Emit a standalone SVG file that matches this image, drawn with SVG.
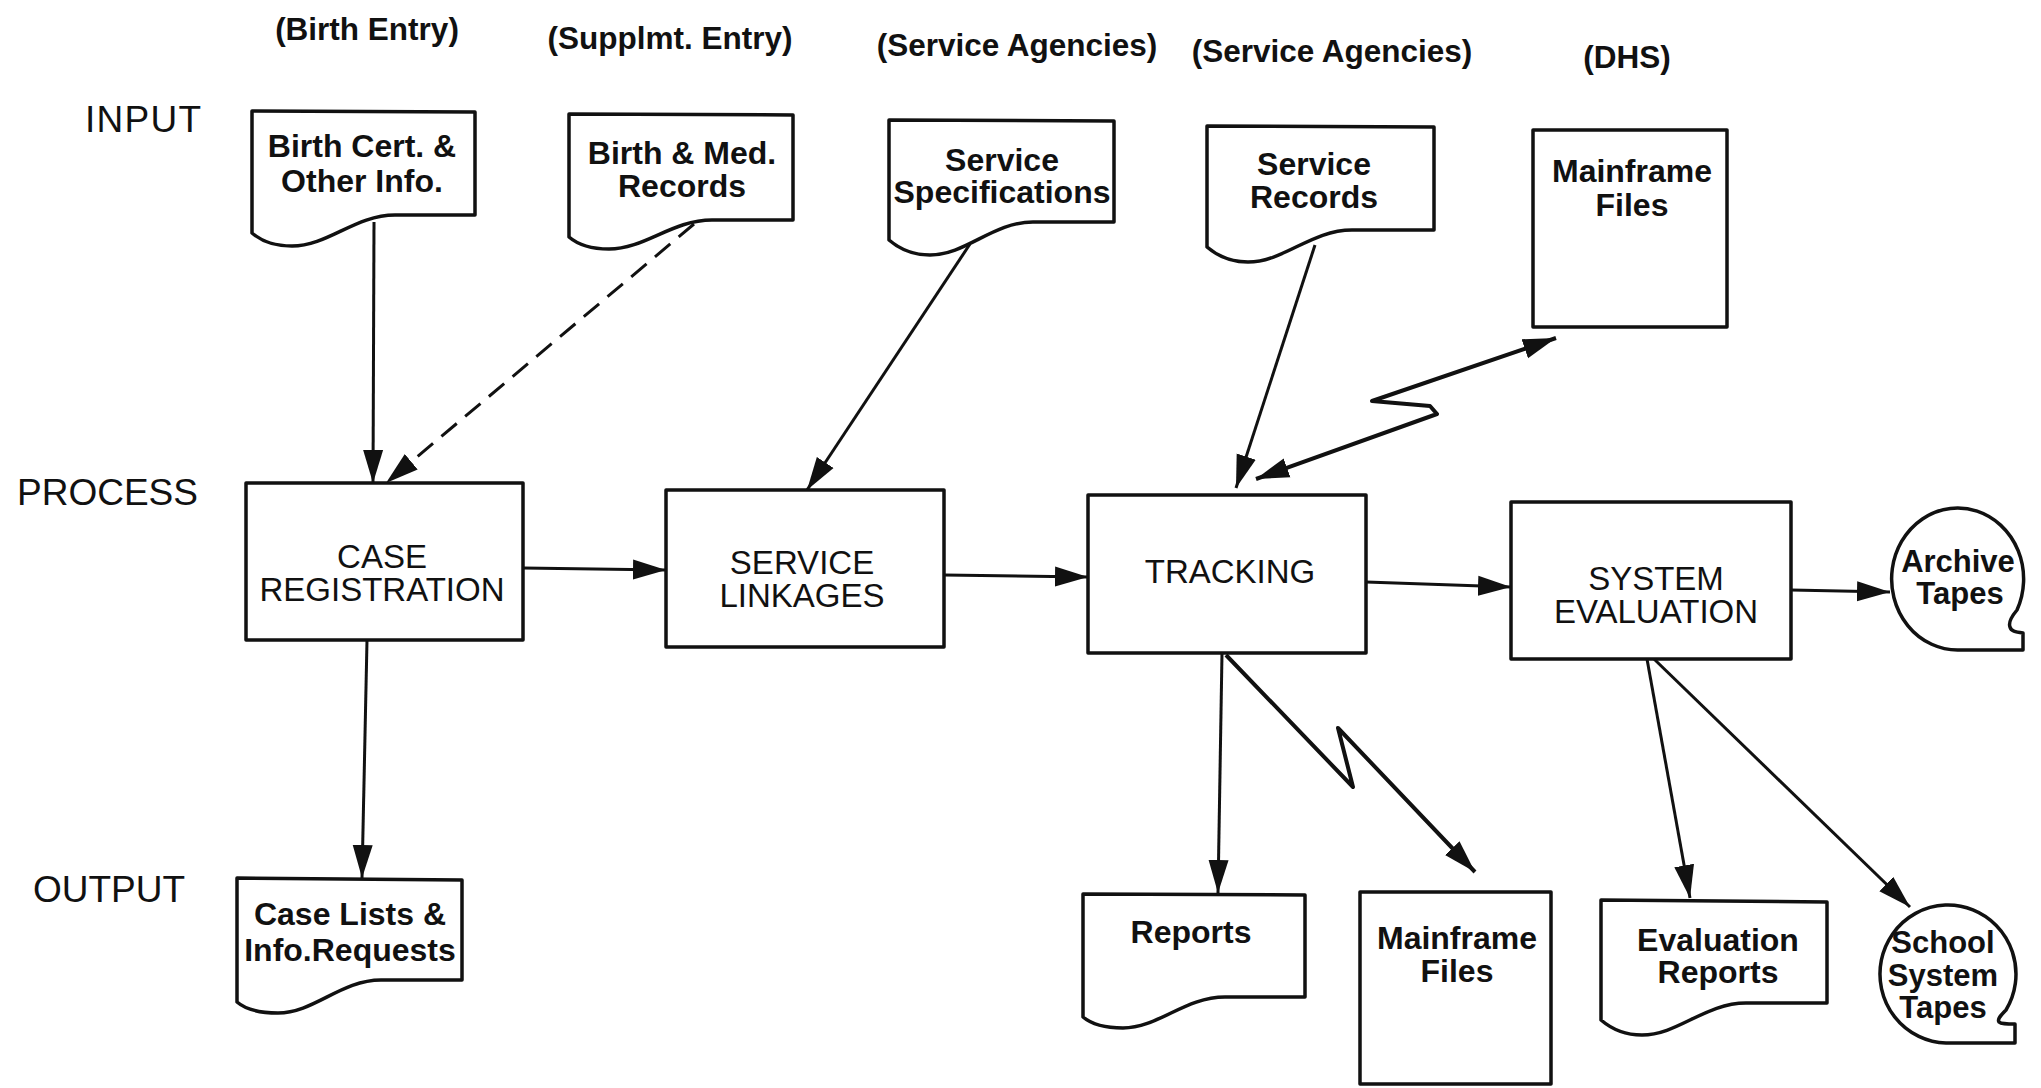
<svg xmlns="http://www.w3.org/2000/svg" width="2041" height="1088" viewBox="0 0 2041 1088">
<style>
 text{font-family:"Liberation Sans",Arial,Helvetica,sans-serif;fill:#111;text-anchor:middle}
 .hdr{font-size:31.5px;font-weight:bold}
 .row{font-size:37px;text-anchor:start}
 .doc{font-size:32px;font-weight:bold}
 .tape{font-size:31px;font-weight:bold}
 .proc{font-size:33px}
 .shape{fill:#fff;stroke:#111;stroke-width:3.5;stroke-linejoin:round}
 .conn{fill:none;stroke:#111;stroke-width:3;stroke-linejoin:round}
 .dash{stroke-dasharray:20 11}
 .bolt{stroke-width:4}
</style>
<defs>
 <marker id="ah" markerUnits="userSpaceOnUse" markerWidth="34" markerHeight="22" refX="33" refY="11" orient="auto-start-reverse">
  <path d="M0,1 L33,11 L0,21 Z" fill="#111"/>
 </marker>
</defs>
<rect width="2041" height="1088" fill="#fff"/>

<g id="labels">
 <text class="hdr" x="367" y="40">(Birth Entry)</text>
 <text class="hdr" x="670" y="49">(Supplmt. Entry)</text>
 <text class="hdr" x="1017" y="56">(Service Agencies)</text>
 <text class="hdr" x="1332" y="62">(Service Agencies)</text>
 <text class="hdr" x="1627" y="68">(DHS)</text>
 <text class="row" x="85" y="132" textLength="116" lengthAdjust="spacing">INPUT</text>
 <text class="row" x="17" y="505">PROCESS</text>
 <text class="row" x="33" y="902">OUTPUT</text>
</g>

<g id="connectors">
 <path class="conn" d="M374,222 L373,483" marker-end="url(#ah)"/>
 <path class="conn dash" d="M694,224 L386,483" marker-end="url(#ah)"/>
 <path class="conn" d="M970,244 L807,490" marker-end="url(#ah)"/>
 <path class="conn" d="M1315,245 L1236,488" marker-end="url(#ah)"/>
 <path class="conn bolt" d="M1256,479 L1437,414 L1430,406 L1372,401 L1556,338" marker-start="url(#ah)" marker-end="url(#ah)"/>
 <path class="conn" d="M523,568 L666,570" marker-end="url(#ah)"/>
 <path class="conn" d="M944,575 L1088,577" marker-end="url(#ah)"/>
 <path class="conn" d="M1366,582 L1511,587" marker-end="url(#ah)"/>
 <path class="conn" d="M1791,590 L1890,592" marker-end="url(#ah)"/>
 <path class="conn" d="M367,640 L362,878" marker-end="url(#ah)"/>
 <path class="conn" d="M1222,653 L1218,893" marker-end="url(#ah)"/>
 <path class="conn bolt" d="M1226,655 L1353,787 L1338,728 L1475,872" marker-end="url(#ah)"/>
 <path class="conn" d="M1647,659 L1690,898" marker-end="url(#ah)"/>
 <path class="conn" d="M1654,659 L1910,907" marker-end="url(#ah)"/>
</g>

<g id="birth-cert">
 <path class="shape" d="M252,111 L475,112 L475,215 L395,215 C355,215 328,246 292,246 C272,246 259,239 252,233 Z"/>
 <text class="doc" x="362" y="157">Birth Cert. &amp;</text>
 <text class="doc" x="362" y="192">Other Info.</text>
</g>
<g id="birth-med">
 <path class="shape" d="M569,114 L793,115 L793,220 L712,220 C672,220 645,249 609,249 C589,249 576,243 569,237 Z"/>
 <text class="doc" x="682" y="164">Birth &amp; Med.</text>
 <text class="doc" x="682" y="197">Records</text>
</g>
<g id="service-spec">
 <path class="shape" d="M889,120 L1114,121 L1114,222 L1033,222 C993,222 966,255 930,255 C909,255 896,246 889,240 Z"/>
 <text class="doc" x="1002" y="171">Service</text>
 <text class="doc" x="1002" y="203">Specifications</text>
</g>
<g id="service-records">
 <path class="shape" d="M1207,126 L1434,127 L1434,230 L1352,230 C1311,230 1284,262 1248,262 C1227,262 1214,253 1207,247 Z"/>
 <text class="doc" x="1314" y="175">Service</text>
 <text class="doc" x="1314" y="208">Records</text>
</g>
<g id="mainframe-in">
 <rect class="shape" x="1533" y="130" width="194" height="197"/>
 <text class="doc" x="1632" y="182">Mainframe</text>
 <text class="doc" x="1632" y="216">Files</text>
</g>

<g id="case-registration">
 <rect class="shape" x="246" y="483" width="277" height="157"/>
 <text class="proc" x="382" y="568">CASE</text>
 <text class="proc" x="382" y="601">REGISTRATION</text>
</g>
<g id="service-linkages">
 <rect class="shape" x="666" y="490" width="278" height="157"/>
 <text class="proc" x="802" y="574">SERVICE</text>
 <text class="proc" x="802" y="607">LINKAGES</text>
</g>
<g id="tracking">
 <rect class="shape" x="1088" y="495" width="278" height="158"/>
 <text class="proc" x="1230" y="583">TRACKING</text>
</g>
<g id="system-evaluation">
 <rect class="shape" x="1511" y="502" width="280" height="157"/>
 <text class="proc" x="1656" y="590">SYSTEM</text>
 <text class="proc" x="1656" y="623">EVALUATION</text>
</g>
<g id="archive-tapes">
 <path class="shape" d="M1958,650 A66,71 0 1 1 2017,610 C2012,616 2008,622 2010,627 C2011,631 2015,632 2023,633 L2023,650 Z"/>
 <text class="tape" x="1958" y="572">Archive</text>
 <text class="tape" x="1960" y="604">Tapes</text>
</g>

<g id="case-lists">
 <path class="shape" d="M237,878 L462,880 L462,980 L381,980 C341,980 314,1013 278,1013 C257,1013 244,1008 237,1002 Z"/>
 <text class="doc" x="350" y="925">Case Lists &amp;</text>
 <text class="doc" x="350" y="961">Info.Requests</text>
</g>
<g id="reports">
 <path class="shape" d="M1083,894 L1305,895 L1305,997 L1225,997 C1185,997 1158,1028 1123,1028 C1103,1028 1090,1023 1083,1017 Z"/>
 <text class="doc" x="1191" y="943">Reports</text>
</g>
<g id="mainframe-out">
 <rect class="shape" x="1360" y="892" width="191" height="192"/>
 <text class="doc" x="1457" y="949">Mainframe</text>
 <text class="doc" x="1457" y="982">Files</text>
</g>
<g id="evaluation-reports">
 <path class="shape" d="M1601,900 L1827,902 L1827,1003 L1746,1003 C1705,1003 1678,1035 1642,1035 C1621,1035 1608,1026 1601,1020 Z"/>
 <text class="doc" x="1718" y="951">Evaluation</text>
 <text class="doc" x="1718" y="983">Reports</text>
</g>
<g id="school-tapes">
 <path class="shape" d="M1946,1043 A68,69 0 1 1 2006,1010 C2001,1015 1997,1019 1999,1022 C2001,1024 2006,1024 2015,1024 L2015,1043 Z"/>
 <text class="tape" x="1943" y="953">School</text>
 <text class="tape" x="1943" y="986">System</text>
 <text class="tape" x="1943" y="1018">Tapes</text>
</g>
</svg>
